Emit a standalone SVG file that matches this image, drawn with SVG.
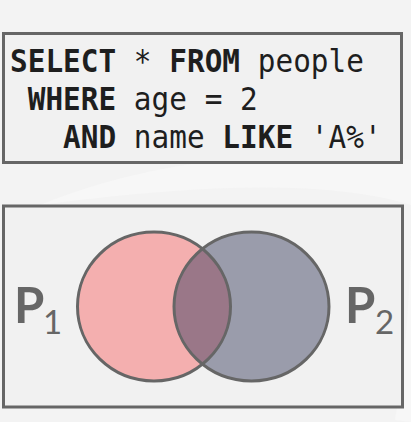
<svg xmlns="http://www.w3.org/2000/svg" width="411" height="422" viewBox="0 0 411 422">
<defs>
<style>
.box{fill:#f1f1f1;stroke:#666;stroke-width:3}
.sql{font-family:"DejaVu Sans Mono","Liberation Mono",monospace;font-size:29.4px;fill:#1e1e1e}
.kw{font-weight:bold}
.lbl{font-family:Lato,"Liberation Sans",sans-serif;fill:#666}
.ring{fill:none;stroke:#666;stroke-width:3}
</style>
<clipPath id="clipL"><ellipse cx="154" cy="306.5" rx="76.5" ry="74.5"/></clipPath>
</defs>
<rect width="411" height="422" fill="#f3f3f3"/>
<path d="M40,205 Q200,140 411,160 L411,205 Q300,170 40,205 Z" fill="#f7f7f7"/>
<path d="M395,420 Q410,330 411,230 L411,422 Z" fill="#f7f7f7"/>
<g id="query">
<rect class="box" x="3.5" y="33.5" width="398" height="129"/>
<text class="sql" xml:space="preserve" x="10" y="0" transform="translate(0,72) scale(1,1.07)"><tspan class="kw">SELECT</tspan> * <tspan class="kw">FROM</tspan> people</text>
<text class="sql" xml:space="preserve" x="10" y="0" transform="translate(0,110) scale(1,1.07)"> <tspan class="kw">WHERE</tspan> age = 2</text>
<text class="sql" xml:space="preserve" x="10" y="0" transform="translate(0,148) scale(1,1.07)">   <tspan class="kw">AND</tspan> name <tspan class="kw">LIKE</tspan> 'A%'</text>
</g>
<g id="venn">
<rect class="box" x="3.5" y="206" width="399" height="201"/>
<ellipse cx="154" cy="306.5" rx="76.5" ry="74.5" fill="#f4afaf"/>
<ellipse cx="251.5" cy="306.5" rx="77.5" ry="74.5" fill="#9a9cab"/>
<ellipse cx="251.5" cy="306.5" rx="77.5" ry="74.5" fill="#9a7788" clip-path="url(#clipL)"/>
<ellipse class="ring" cx="154" cy="306.5" rx="76.5" ry="74.5"/>
<ellipse class="ring" cx="251.5" cy="306.5" rx="77.5" ry="74.5"/>
</g>
<g id="p1">
<text class="lbl" x="14" y="323" font-size="49" font-weight="bold">P</text>
<text class="lbl" x="43" y="334" font-size="33">1</text>
</g>
<g id="p2">
<text class="lbl" x="345" y="323" font-size="49" font-weight="bold">P</text>
<text class="lbl" x="375" y="334" font-size="33">2</text>
</g>
</svg>
